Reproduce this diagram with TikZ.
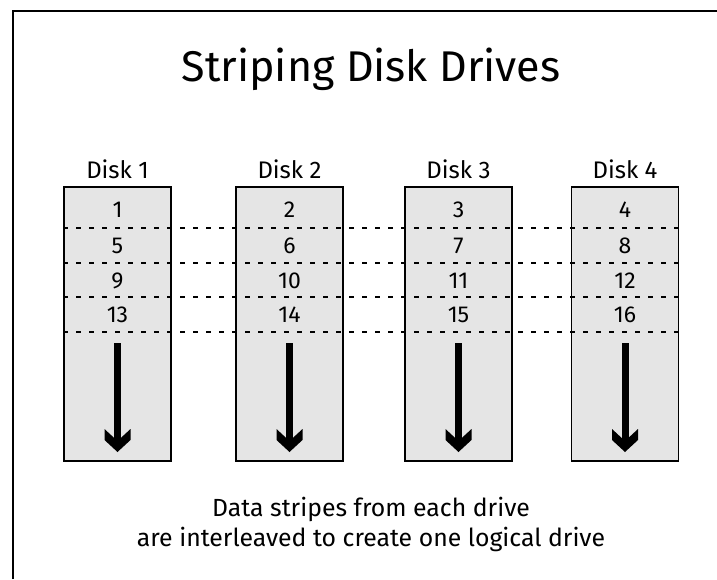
\documentclass[tikz,border=0pt]{standalone}
\usepackage{fontspec}
\setmainfont{Fira Sans}

\begin{document}
\begin{tikzpicture}[x=1pt, y=-1pt,
                    disk_style/.style={rectangle, draw, line width=1.5pt, fill=black!10, inner sep=0pt, minimum width=107pt, minimum height=274pt},
                    label_style/.style={anchor=base, inner sep=0pt, font=\fontsize{24}{28}\selectfont},
                    num_style/.style={anchor=base, inner sep=0pt, font=\fontsize{23}{28}\selectfont},
                    note_style/.style={anchor=base, inner sep=0pt, font=\fontsize{24.8}{30}\selectfont},
                    stripe_style/.style={draw=black, line width=1.5pt, dash pattern=on 5pt off 8pt},
                    shaft_style/.style={draw=black, line width=7pt}]
                    \useasboundingbox (0,0) rectangle (717,579);
                    \draw[line width=1.5pt] (13,579) -- (13,11) -- (717,11);
                    \node[anchor=base, inner sep=0pt, font=\fontsize{43}{48}\selectfont] (title) at (371,81.5) {Striping Disk Drives};
                    % one column per disk
                    \foreach \n/\x/\a/\b/\c/\d in {1/117.5/1/5/9/13, 2/289.5/2/6/10/14, 3/458.5/3/7/11/15, 4/625/4/8/12/16} {
                        \node[disk_style] (disk\n) at (\x,324) {};
                        \node[label_style] (label\n) at (\x,178) {Disk \n};
                        \node[num_style] (n\a) at (\x,217) {\a};
                        \node[num_style] (n\b) at (\x,253) {\b};
                        \node[num_style] (n\c) at (\x,288) {\c};
                        \node[num_style] (n\d) at (\x,322) {\d};
                        \coordinate (top\n) at (\x,343);
                        \coordinate (end\n) at (\x,438);
                        \coordinate (tip\n) at (\x,452);
                        \draw[shaft_style] (top\n) -- (end\n);
                        \fill (tip\n) -- ++(13,-12) -- ++(0,-11) -- ++(-9.5,8.8) -- ++(-7,0) -- ++(-9.5,-8.8) -- ++(0,11) -- cycle;
                    }
                    % stripes across all disks
                    \foreach \y in {228,263,297,332} {
                        \draw[stripe_style] (disk1.west |- 0,\y) -- (disk4.east |- 0,\y);
                    }
                    \node[note_style] (note1) at (371,516) {Data stripes from each drive};
                    \node[note_style] (note2) at (371,546) {are interleaved to create one logical drive};
                \end{tikzpicture}
\end{document}
